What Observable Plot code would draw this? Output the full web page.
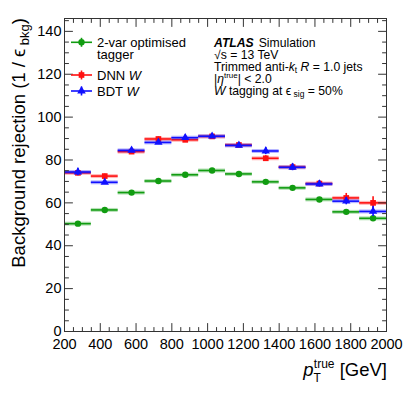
<!DOCTYPE html>
<html><head><meta charset="utf-8">
<script src="https://cdn.jsdelivr.net/npm/d3@7"></script>
<script src="https://cdn.jsdelivr.net/npm/@observablehq/plot@0.6"></script>
<style>body{margin:0;background:#fff;} svg{display:block}</style>
</head><body><div id="chart"></div>
<script>
// Data
const binLow  = [200, 350, 500, 650, 800, 950, 1100, 1250, 1400, 1550, 1700, 1850];
const binHigh = [350, 500, 650, 800, 950, 1100, 1250, 1400, 1550, 1700, 1850, 2000];
const twoVar    = [50.3, 56.7, 64.8, 70.2, 73.1, 75.1, 73.5, 69.8, 67.0, 61.6, 55.8, 52.8];
const twoVarErr = [0.4, 0.4, 0.4, 0.4, 0.5, 0.5, 0.5, 0.5, 0.6, 0.6, 0.7, 0.8];
const dnn       = [74.0, 72.5, 83.9, 89.8, 89.4, 91.0, 87.0, 80.8, 76.7, 69.0, 62.3, 60.0];
const dnnErr    = [1.0, 0.9, 0.9, 1.0, 1.0, 0.8, 1.0, 1.2, 1.4, 1.4, 2.1, 2.8];
const bdt       = [74.4, 69.6, 84.5, 88.2, 90.4, 91.1, 86.8, 84.2, 76.6, 68.8, 60.8, 56.0];
const bdtErr    = [1.8, 0.9, 1.0, 1.0, 1.3, 0.8, 0.9, 1.7, 1.6, 1.4, 1.7, 2.4];
const xTickLabels = [200, 400, 600, 800, 1000, 1200, 1400, 1600, 1800, 2000];
const yTickLabels = [0, 20, 40, 60, 80, 100, 120, 140];
const seriesNames = ["2-var optimised", "tagger", "DNN ", "BDT "];
const colors = {twoVar: "#119c11", dnn: "#ff1010", bdt: "#1010ff"};

function rows(vals, errs) {
  return vals.map((v, i) => ({lo: binLow[i], hi: binHigh[i], x: (binLow[i] + binHigh[i]) / 2, y: v, e: errs[i]}));
}
const dTwo = rows(twoVar, twoVarErr), dDnn = rows(dnn, dnnErr), dBdt = rows(bdt, bdtErr);

const xMinor = d3.range(200, 2001, 50).filter(v => v % 200 !== 0);
const yMinor = d3.range(0, 146, 5).filter(v => v % 20 !== 0);
const tickShape = {draw(ctx, l) { ctx.moveTo(0, 0); ctx.lineTo(0, -l); }};
const tickStroke = "#333";

function tickMarks(data, axis, len) {
  const common = {length: len, anchor: "start", shape: tickShape, stroke: tickStroke, strokeWidth: 1};
  if (axis === "x") return [
    Plot.vector(data, {...common, x: d => d, frameAnchor: "bottom", rotate: 0}),
    Plot.vector(data, {...common, x: d => d, frameAnchor: "top", rotate: 180})
  ];
  return [
    Plot.vector(data, {...common, y: d => d, frameAnchor: "left", rotate: 90}),
    Plot.vector(data, {...common, y: d => d, frameAnchor: "right", rotate: -90})
  ];
}

function series(data, color, symbol) {
  return [
    Plot.ruleY(data, {y: "y", x1: "lo", x2: "hi", stroke: color, strokeWidth: 4, strokeOpacity: 0.3}),
    Plot.ruleY(data, {y: "y", x1: "lo", x2: "hi", stroke: color, strokeWidth: 1.6}),
    Plot.ruleX(data, {x: "x", y1: d => d.y - d.e, y2: d => d.y + d.e, stroke: color, strokeWidth: 1.6}),
    Plot.dot(data, {x: "x", y: "y", symbol, fill: color, r: symbol === "triangle" ? 3.1 : 3.2, stroke: "none"})
  ];
}

const chart = Plot.plot({
  width: 407, height: 395,
  marginLeft: 64, marginRight: 21, marginTop: 18, marginBottom: 64,
  style: {fontFamily: "'Liberation Sans', Arial, sans-serif", fontSize: "14.5px", color: "#000", background: "#fff"},
  x: {domain: [200, 2000]},
  y: {domain: [0, 146]},
  marks: [
    ...series(dTwo, colors.twoVar, "circle"),
    ...series(dDnn, colors.dnn, "square"),
    ...series(dBdt, colors.bdt, "triangle"),
    Plot.frame({stroke: tickStroke, strokeWidth: 1}),
    ...tickMarks(xTickLabels, "x", 8),
    ...tickMarks(xMinor, "x", 4),
    ...tickMarks(yTickLabels, "y", 8),
    ...tickMarks(yMinor, "y", 4),
    Plot.axisX(xTickLabels, {anchor: "bottom", tickSize: 0, tickPadding: 7, label: null, fill: "#000", tickFormat: d => String(d)}),
    Plot.axisY(yTickLabels, {anchor: "left", tickSize: 0, tickPadding: 3, label: null, fill: "#000", tickFormat: d => String(d)})
  ]
});
document.getElementById("chart").appendChild(chart);

const svg = d3.select(chart);
const font = "'Liberation Sans', Arial, sans-serif";

// Y axis title
const yt = svg.append("text")
  .attr("transform", "translate(25,18) rotate(-90)")
  .attr("text-anchor", "end").attr("font-family", font).attr("font-size", 18.5).attr("fill", "#000");
yt.append("tspan").text("Background rejection (1 / ");
yt.append("tspan").text("\u03f5");
yt.append("tspan").attr("font-size", 13).attr("dy", 4).text(" bkg");
yt.append("tspan").attr("dy", -4).text(")");

// X axis title
const xt = svg.append("text")
  .attr("x", 387).attr("y", 376)
  .attr("text-anchor", "end").attr("font-family", font).attr("font-size", 18.5).attr("fill", "#000");
xt.append("tspan").attr("font-style", "italic").text("p");
xt.append("tspan").attr("font-size", 12).attr("dy", 6).text("T");
xt.append("tspan").attr("font-size", 12).attr("dx", -7).attr("dy", -14).text("true");
xt.append("tspan").attr("dy", 8).text(" [GeV]");

// Legend
const lg = svg.append("g").attr("font-family", font).attr("font-size", 13).attr("fill", "#000").attr("text-anchor", "start");
const legendItems = [
  {y: 42.3, color: colors.twoVar, symbol: d3.symbolCircle, lines: [seriesNames[0], seriesNames[1]], w: false},
  {y: 75, color: colors.dnn, symbol: d3.symbolSquare, lines: [seriesNames[2]], w: true},
  {y: 91, color: colors.bdt, symbol: d3.symbolTriangle, lines: [seriesNames[3]], w: true}
];
for (const it of legendItems) {
  lg.append("line").attr("x1", 71).attr("x2", 92).attr("y1", it.y).attr("y2", it.y)
    .attr("stroke", it.color).attr("stroke-width", 1.6);
  lg.append("line").attr("x1", 81.5).attr("x2", 81.5).attr("y1", it.y - 4.5).attr("y2", it.y + 4.5)
    .attr("stroke", it.color).attr("stroke-width", 1.6);
  lg.append("path").attr("transform", `translate(81.5,${it.y})`)
    .attr("d", d3.symbol(it.symbol, 32)()).attr("fill", it.color);
  it.lines.forEach((t, k) => {
    const tx = lg.append("text").attr("x", 97).attr("y", it.y + 4.6 + k * 12.2).text(t);
    if (it.w) tx.append("tspan").attr("font-style", "italic").text("W");
  });
}

// ATLAS annotation
const an = svg.append("g").attr("font-family", font).attr("font-size", 12.2).attr("fill", "#000").attr("text-anchor", "start");
const ax = 214;
let t = an.append("text").attr("x", ax).attr("y", 46.6);
t.append("tspan").attr("font-weight", "bold").attr("font-style", "italic").text("ATLAS");
t.append("tspan").attr("dx", 5).text("Simulation");
t = an.append("text").attr("x", ax).attr("y", 58.8);
t.append("tspan").text("\u221as = 13 TeV");
t = an.append("text").attr("x", ax).attr("y", 70.8);
t.append("tspan").text("Trimmed anti-");
t.append("tspan").attr("font-style", "italic").text("k");
t.append("tspan").attr("font-size", 8.5).attr("dy", 2.5).text("t");
t.append("tspan").attr("dy", -2.5).text(" ");
t.append("tspan").attr("font-style", "italic").text("R");
t.append("tspan").text(" = 1.0 jets");
t = an.append("text").attr("x", ax).attr("y", 82.6);
t.append("tspan").text("|");
t.append("tspan").attr("font-style", "italic").text("\u03b7");
t.append("tspan").attr("font-size", 8).attr("dy", -5).text("true");
t.append("tspan").attr("dy", 5).text("| < 2.0");
t = an.append("text").attr("x", ax).attr("y", 94.6);
t.append("tspan").attr("font-style", "italic").text("W");
t.append("tspan").text(" tagging at \u03f5");
t.append("tspan").attr("font-size", 8.5).attr("dy", 2.5).text(" sig");
t.append("tspan").attr("dy", -2.5).text(" = 50%");
</script>
</body></html>
